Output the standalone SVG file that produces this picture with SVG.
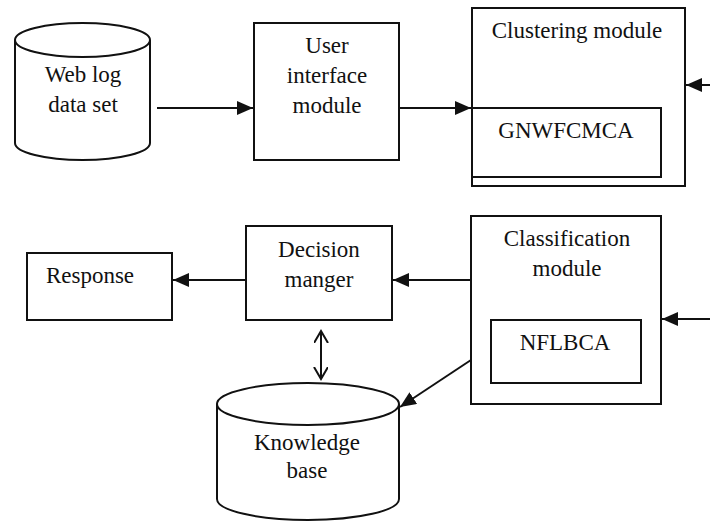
<svg xmlns="http://www.w3.org/2000/svg" width="710" height="521" viewBox="0 0 710 521">
<defs>
<style>
.s{fill:#fff;stroke:#111;stroke-width:2}
.l{fill:none;stroke:#111;stroke-width:2}
</style>
<marker id="ah" markerUnits="userSpaceOnUse" markerWidth="17" markerHeight="15" refX="16" refY="7" orient="auto">
<path d="M0,0 L16,7 L0,14 Z" fill="#111"/>
</marker>
<marker id="oh" markerUnits="userSpaceOnUse" markerWidth="16" markerHeight="16" refX="12" refY="7" orient="auto-start-reverse">
<path d="M0,0 L12,7 L0,14" fill="none" stroke="#111" stroke-width="2"/>
</marker>
</defs>
<rect width="710" height="521" fill="#fff"/>
<g font-family="Liberation Serif, Times New Roman, serif" font-size="23" fill="#111" text-anchor="middle">
<g id="weblog">
<path class="s" d="M15,40 L15,143 A67.5,17 0 0 0 150,143 L150,40"/>
<ellipse class="s" cx="82.5" cy="40" rx="67.5" ry="17"/>
<text x="83" y="82">Web log</text>
<text x="83" y="112">data set</text>
</g>
<g id="ui">
<rect class="s" x="254" y="23" width="145" height="137"/>
<text x="327" y="53">User</text>
<text x="327" y="83">interface</text>
<text x="327" y="113">module</text>
</g>
<g id="clustering">
<rect class="s" x="472" y="8" width="213" height="178"/>
<text x="577" y="38">Clustering module</text>
<rect class="s" x="472" y="108" width="189" height="69"/>
<text x="566" y="138">GNWFCMCA</text>
</g>
<g id="response">
<rect class="s" x="27" y="253" width="145" height="67"/>
<text x="90" y="283">Response</text>
</g>
<g id="decision">
<rect class="s" x="246" y="226" width="146" height="94"/>
<text x="319" y="257">Decision</text>
<text x="319" y="287">manger</text>
</g>
<g id="classification">
<rect class="s" x="471" y="216" width="190" height="188"/>
<text x="567" y="246">Classification</text>
<text x="567" y="276">module</text>
<rect class="s" x="491" y="320" width="150" height="63"/>
<text x="565" y="350">NFLBCA</text>
</g>
<g id="knowledge">
<path class="s" d="M217,404 L217,499 A91,21 0 0 0 399,499 L399,404"/>
<ellipse class="s" cx="308" cy="404" rx="91" ry="21"/>
<text x="307" y="450">Knowledge</text>
<text x="307" y="478">base</text>
</g>
</g>
<g id="connectors">
<line class="l" x1="157" y1="108" x2="253" y2="108" marker-end="url(#ah)"/>
<line class="l" x1="399" y1="108" x2="471" y2="108" marker-end="url(#ah)"/>
<line class="l" x1="710" y1="85" x2="686" y2="85" marker-end="url(#ah)"/>
<line class="l" x1="471" y1="280" x2="393" y2="280" marker-end="url(#ah)"/>
<line class="l" x1="246" y1="280" x2="173" y2="280" marker-end="url(#ah)"/>
<line class="l" x1="710" y1="319" x2="662" y2="319" marker-end="url(#ah)"/>
<line class="l" x1="471" y1="360" x2="400" y2="407" marker-end="url(#ah)"/>
<line class="l" x1="321" y1="331" x2="321" y2="379" marker-start="url(#oh)" marker-end="url(#oh)"/>
</g>
</svg>
